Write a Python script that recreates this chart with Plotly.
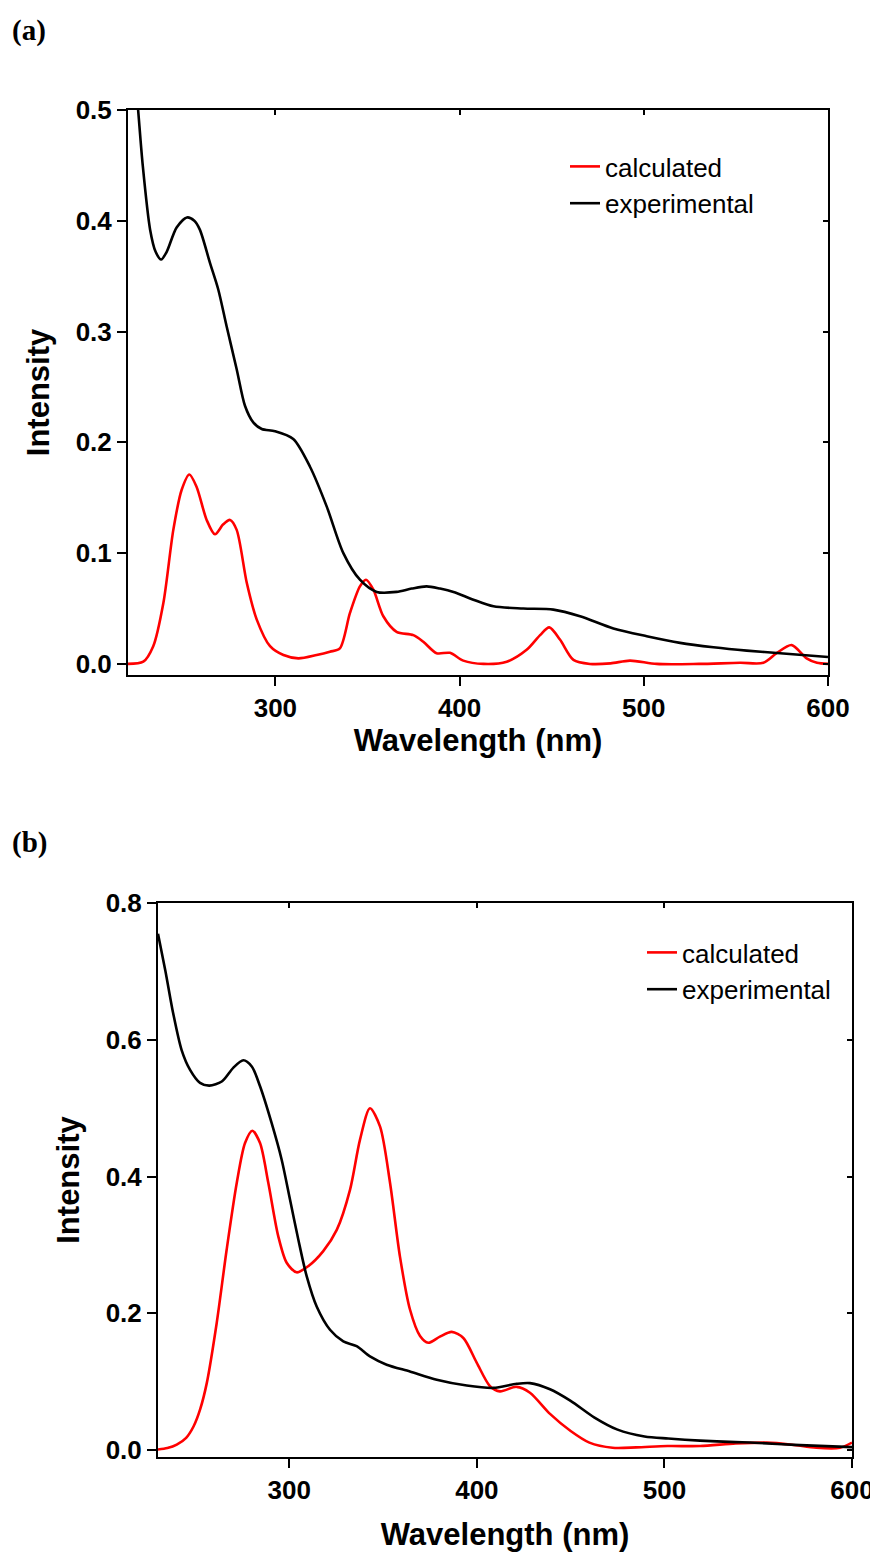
import plotly.graph_objects as go

# ---------------- Panel (a) data ----------------
a_exp_x = [220, 223, 225.5, 228, 232, 235, 238, 241, 246.4, 252, 256, 259, 264.5, 269, 273.5, 279,
           283.5, 288, 292.6, 299.8, 309.7, 318.8, 327.9, 336.9, 345.9, 355, 365.8, 374, 382.1,
           389.4, 396.7, 407.5, 418.4, 434.6, 450.9, 465.4, 483.5, 501.6, 519.7, 537.8, 555.9,
           574, 600]
a_exp_y = [0.62, 0.55, 0.50, 0.45, 0.392, 0.372, 0.365, 0.372, 0.394, 0.403, 0.400, 0.392, 0.362,
           0.338, 0.305, 0.266, 0.233, 0.218, 0.212, 0.210, 0.203, 0.178, 0.142, 0.100, 0.076,
           0.065, 0.065, 0.068, 0.070, 0.068, 0.065, 0.058, 0.052, 0.050, 0.049, 0.043, 0.032,
           0.025, 0.019, 0.015, 0.012, 0.0097, 0.0063]

a_calc_x = [220, 228.3, 233.7, 239.2, 244.6, 249.1, 253.3, 257.2, 262.7, 267.2, 271.7, 275.4, 279,
            284.5, 289.9, 297.1, 304.4, 312.5, 322.4, 329.6, 335, 340.5, 345.9, 349.2, 353.2,
            358.6, 365.8, 374.9, 380.3, 387.5, 394.8, 402, 413, 425.6, 436.4, 443.7, 448.7,
            454.5, 461.8, 470.8, 482, 492.5, 507, 530, 552.3, 564.9, 572.1, 580.3, 588.4, 594, 600]
a_calc_y = [0.0, 0.002, 0.016, 0.055, 0.121, 0.157, 0.171, 0.160, 0.130, 0.117, 0.126, 0.130, 0.121,
            0.073, 0.040, 0.016, 0.008, 0.005, 0.008, 0.011, 0.014, 0.046, 0.070, 0.076, 0.067,
            0.043, 0.029, 0.026, 0.020, 0.0097, 0.010, 0.003, 0.0, 0.002, 0.0127, 0.026, 0.033,
            0.022, 0.0036, 0.0, 0.0005, 0.003, 0.0, 0.0, 0.001, 0.001, 0.0097, 0.017, 0.005, 0.001, 0.0]

# ---------------- Panel (b) data ----------------
b_exp_x = [230, 234, 238, 242.6, 247.1, 252.4, 257.4, 264, 270.1, 275.5, 280, 284.4, 290.6, 295.9,
           300.4, 304.8, 309.3, 314.6, 321.7, 328.8, 335.9, 343, 351.9, 364.3, 378.6, 394.6,
           408.8, 421.2, 428.3, 439, 450, 462.5, 475, 489.4, 502, 519, 538, 545.6, 572.3, 600]
b_exp_y = [0.755, 0.70, 0.64, 0.585, 0.556, 0.537, 0.533, 0.539, 0.559, 0.570, 0.561, 0.532, 0.478,
           0.425, 0.366, 0.308, 0.254, 0.210, 0.176, 0.159, 0.152, 0.137, 0.125, 0.115, 0.103,
           0.0945, 0.091, 0.097, 0.098, 0.089, 0.072, 0.048, 0.030, 0.020, 0.017, 0.014, 0.0117,
           0.0112, 0.0073, 0.0044]

b_calc_x = [230, 235, 240, 245, 249, 252.5, 256, 261.3, 266.6, 272, 276.4, 280.3, 284.4, 288.8,
            294.1, 298.6, 303.9, 310.1, 318.1, 325.3, 332.4, 337.7, 343, 348.4, 353.7, 359, 364.3,
            369.7, 374.1, 380.3, 386.6, 392.8, 399.9, 407, 412.3, 421.2, 428.3, 439, 450, 460,
            472.3, 485, 501.6, 519, 538, 554.5, 568, 581, 593.6, 600]
b_calc_y = [0.001, 0.003, 0.008, 0.018, 0.035, 0.060, 0.098, 0.186, 0.293, 0.391, 0.449, 0.467,
            0.449, 0.391, 0.313, 0.274, 0.260, 0.269, 0.291, 0.322, 0.381, 0.454, 0.500, 0.473,
            0.391, 0.283, 0.206, 0.167, 0.157, 0.166, 0.173, 0.164, 0.128, 0.0935, 0.086,
            0.0926, 0.084, 0.053, 0.028, 0.011, 0.0035, 0.004, 0.006, 0.006, 0.0098, 0.011,
            0.008, 0.0035, 0.0035, 0.011]

x_ticks = [300, 400, 500, 600]
a_y_ticks = [0.0, 0.1, 0.2, 0.3, 0.4, 0.5]
b_y_ticks = [0.0, 0.2, 0.4, 0.6, 0.8]

# page is rendered with an 8px body margin; figure sized to fit the 878x1555 window
OFF = 8
W, H = 868, 1545
RED = "#ff0000"
BLACK = "#000000"
SANS = "Liberation Sans"

def px_x(v):
    return (v - OFF) / W

def px_y(v):
    return 1 - (v - OFF) / H

fig = go.Figure()

line_kw = dict(shape="spline", smoothing=0.8, width=2.6)

fig.add_trace(go.Scatter(x=a_calc_x, y=a_calc_y, mode="lines", name="calculated",
                         line=dict(color=RED, **line_kw), xaxis="x", yaxis="y", legend="legend"))
fig.add_trace(go.Scatter(x=a_exp_x, y=a_exp_y, mode="lines", name="experimental",
                         line=dict(color=BLACK, **line_kw), xaxis="x", yaxis="y", legend="legend"))
fig.add_trace(go.Scatter(x=b_calc_x, y=b_calc_y, mode="lines", name="calculated",
                         line=dict(color=RED, **line_kw), xaxis="x2", yaxis="y2", legend="legend2"))
fig.add_trace(go.Scatter(x=b_exp_x, y=b_exp_y, mode="lines", name="experimental",
                         line=dict(color=BLACK, **line_kw), xaxis="x2", yaxis="y2", legend="legend2"))
# helper traces for mirrored inner tick axes
fig.add_trace(go.Scatter(x=[None], y=[None], mode="lines", showlegend=False, hoverinfo="skip",
                         xaxis="x3", yaxis="y3"))
fig.add_trace(go.Scatter(x=[None], y=[None], mode="lines", showlegend=False, hoverinfo="skip",
                         xaxis="x4", yaxis="y4"))

tick_font = dict(family=SANS, size=26, color=BLACK, weight="bold")
title_font = dict(family=SANS, size=31, color=BLACK, weight="bold")

a_xdom = [px_x(128), px_x(828)]
a_ydom = [px_y(675), px_y(110)]
b_xdom = [px_x(158), px_x(852)]
b_ydom = [px_y(1457), px_y(903)]

common = dict(showline=True, linecolor=BLACK, linewidth=2, ticks="outside", ticklen=9,
              tickwidth=2, tickcolor=BLACK, showgrid=False, zeroline=False, automargin=False,
              tickfont=tick_font, ticklabeloverflow="allow")
mirror_kw = dict(showline=False, ticks="inside", ticklen=5, tickwidth=1.5, tickcolor=BLACK,
                 showticklabels=False, showgrid=False, zeroline=False, automargin=False)

fig.update_layout(
    width=W, height=H,
    margin=dict(l=0, r=0, t=0, b=0),
    paper_bgcolor="white", plot_bgcolor="white",
    xaxis=dict(domain=a_xdom, anchor="y", range=[220, 600], tickvals=x_ticks, mirror=True,
               title=dict(text="Wavelength (nm)", font=title_font, standoff=6), **common),
    yaxis=dict(domain=a_ydom, anchor="x", range=[-0.01, 0.5], tickvals=a_y_ticks,
               tickformat=".1f", mirror=True,
               title=dict(text="Intensity", font=title_font, standoff=17), **common),
    xaxis3=dict(overlaying="x", side="top", anchor="y3", range=[220, 600], tickvals=x_ticks,
                **mirror_kw),
    yaxis3=dict(overlaying="y", side="right", anchor="x3", range=[-0.01, 0.5],
                tickvals=a_y_ticks, **mirror_kw),
    xaxis2=dict(domain=b_xdom, anchor="y2", range=[230, 600], tickvals=x_ticks, mirror=True,
                title=dict(text="Wavelength (nm)", font=title_font, standoff=19), **common),
    yaxis2=dict(domain=b_ydom, anchor="x2", range=[-0.01, 0.8], tickvals=b_y_ticks,
                tickformat=".1f", mirror=True,
                title=dict(text="Intensity", font=title_font, standoff=17), **common),
    xaxis4=dict(overlaying="x2", side="top", anchor="y4", range=[230, 600], tickvals=x_ticks,
                **mirror_kw),
    yaxis4=dict(overlaying="y2", side="right", anchor="x4", range=[-0.01, 0.8],
                tickvals=b_y_ticks, **mirror_kw),
    legend=dict(x=px_x(565), y=px_y(143), xanchor="left", yanchor="top",
                bgcolor="rgba(0,0,0,0)", borderwidth=0,
                font=dict(family=SANS, size=26, color=BLACK), tracegroupgap=0),
    legend2=dict(x=px_x(642), y=px_y(929), xanchor="left", yanchor="top",
                 bgcolor="rgba(0,0,0,0)", borderwidth=0,
                 font=dict(family=SANS, size=26, color=BLACK), tracegroupgap=0),
    showlegend=True,
    annotations=[
        dict(text="(a)", x=px_x(10), y=px_y(30), xref="paper", yref="paper",
             xanchor="left", yanchor="middle", showarrow=False,
             font=dict(family="Liberation Serif", size=29, color=BLACK, weight="bold")),
        dict(text="(b)", x=px_x(10), y=px_y(842), xref="paper", yref="paper",
             xanchor="left", yanchor="middle", showarrow=False,
             font=dict(family="Liberation Serif", size=29, color=BLACK, weight="bold")),
    ],
)

fig.write_html("out.html")
